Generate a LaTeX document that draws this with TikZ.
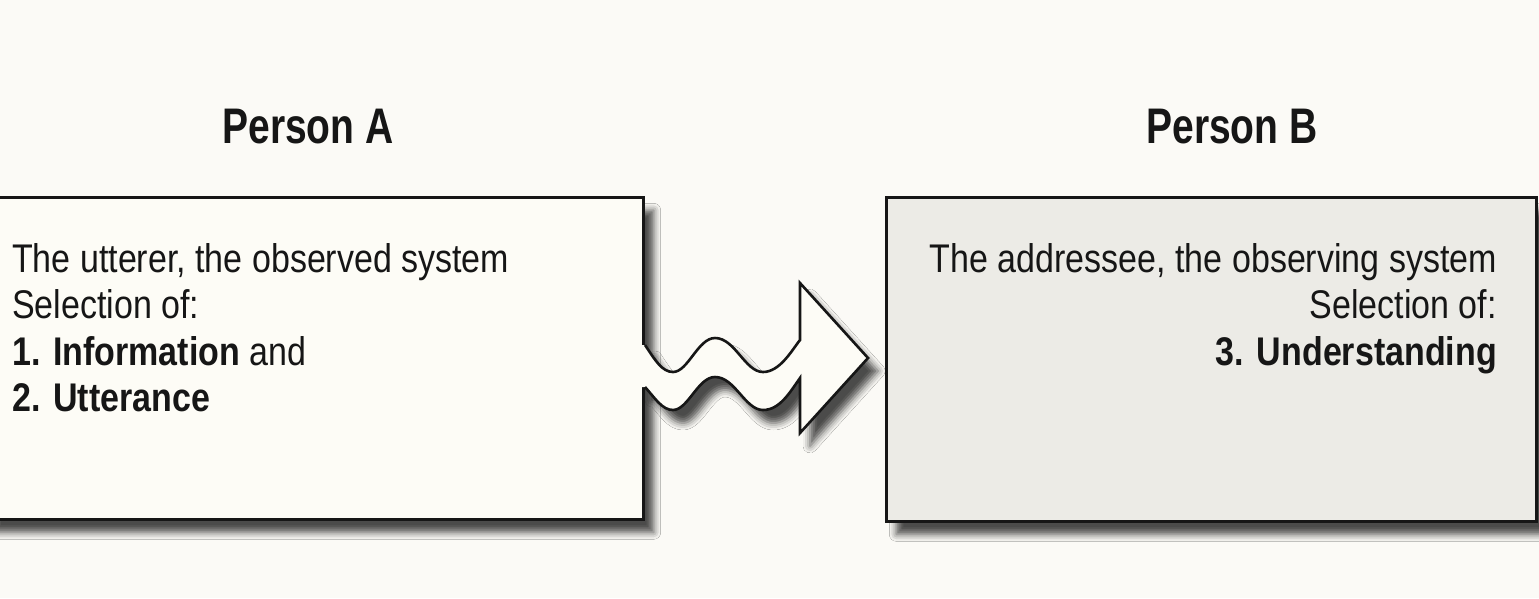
\documentclass[tikz,border=0pt]{standalone}
\usepackage{fontspec}
\setmainfont{Liberation Sans}
\newfontfamily\bodyfont[FakeStretch=0.85]{Liberation Sans}
\newfontfamily\headfont[FakeStretch=0.78]{Liberation Sans}
\usetikzlibrary{shadows.blur}
\definecolor{bgcol}{HTML}{FBFAF6}
\definecolor{boxAfill}{HTML}{FDFCF6}
\definecolor{boxBfill}{HTML}{ECEBE6}
\definecolor{inkcol}{HTML}{161616}
\tikzset{
  softshadow/.style={blur shadow={shadow xshift=10pt, shadow yshift=-13pt, shadow blur radius=7pt, shadow opacity=70}},
  panel/.style={draw=inkcol, line width=2.6pt, inner sep=0pt, softshadow},
  heading/.style={font=\headfont\bfseries\fontsize{50}{56}\selectfont, text=inkcol, inner sep=0pt},
  bodytext/.style={font=\bodyfont\fontsize{40}{46.5}\selectfont, text=inkcol, inner sep=0pt},
  arrowline/.style={draw=inkcol, line width=2.6pt, line join=miter}
}
\begin{document}
\begin{tikzpicture}[x=1pt,y=-1pt]
\fill[bgcol] (0,0) rectangle (1539,598);
\useasboundingbox (0,0) rectangle (1539,598);
% boxes
\node[panel, fill=boxAfill, minimum width=660pt, minimum height=322pt, anchor=north east] (boxA) at (645,196) {};
\node[panel, fill=boxBfill, minimum width=650pt, minimum height=324pt, anchor=north west] (boxB) at (885,196) {};
% headings
\node[heading] (headA) at (308,127) {Person A};
\node[heading] (headB) at (1232,127) {Person B};
% texts
\node[bodytext, anchor=base west] (textA) at (12,272) {The utterer, the observed system};
\node[bodytext, anchor=base west] (textA2) at (12,318.5) {Selection of:};
\node[bodytext, anchor=base west] (textA3) at (12,365) {\textbf{1. Information} and};
\node[bodytext, anchor=base west] (textA4) at (12,411.5) {\textbf{2. Utterance}};
\node[bodytext, anchor=base east] (textB) at (1497,272) {The addressee, the observing system};
\node[bodytext, anchor=base east] (textB2) at (1497,318.5) {Selection of:};
\node[bodytext, anchor=base east] (textB3) at (1497,365) {\textbf{3. Understanding}};
% wavy arrow from boxA to boxB
\coordinate (wS) at (boxA.east |- 0,345);
\coordinate (wE) at (boxA.east |- 0,387);
\coordinate (tip) at (868,358);
\path[softshadow, fill=boxAfill]
  (642,345) -- (wS) .. controls (655,360) and (662,372) .. (673,372)
  .. controls (688,372) and (698,338) .. (715,338)
  .. controls (735,338) and (745,372) .. (763,372)
  .. controls (780,372) and (792,350) .. (800,340)
  -- (800,283) -- (tip) -- (800,433) -- (800,378)
  .. controls (790,392) and (780,410) .. (763,410)
  .. controls (745,410) and (735,377) .. (715,377)
  .. controls (698,377) and (688,410) .. (673,410)
  .. controls (662,410) and (655,398) .. (wE) -- (642,387) -- cycle;
\draw[arrowline]
  (wS) .. controls (655,360) and (662,372) .. (673,372)
  .. controls (688,372) and (698,338) .. (715,338)
  .. controls (735,338) and (745,372) .. (763,372)
  .. controls (780,372) and (792,350) .. (800,340)
  -- (800,283) -- (tip) -- (800,433) -- (800,378)
  .. controls (790,392) and (780,410) .. (763,410)
  .. controls (745,410) and (735,377) .. (715,377)
  .. controls (698,377) and (688,410) .. (673,410)
  .. controls (662,410) and (655,398) .. (wE);
\end{tikzpicture}
\end{document}
